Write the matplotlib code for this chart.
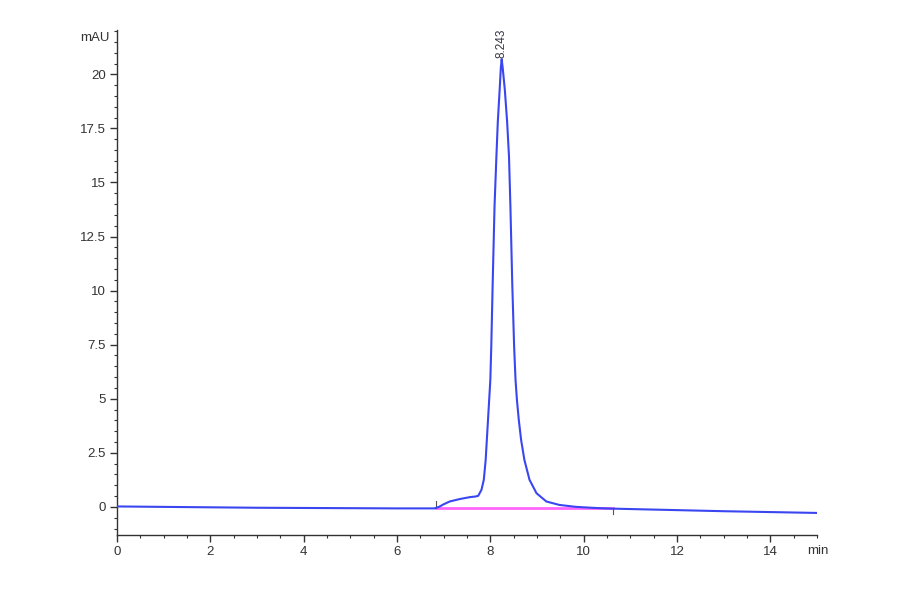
import matplotlib
matplotlib.use("Agg")
import matplotlib.pyplot as plt
from matplotlib.ticker import MultipleLocator, FuncFormatter

plt.rcParams['font.family'] = ['Liberation Sans', 'DejaVu Sans']

# signal trace (min, mAU)
time_min = [0, 1, 2, 3, 4, 5, 6, 6.8, 6.9, 7.0, 7.13, 7.34, 7.56, 7.68, 7.74,
            7.81, 7.86, 7.90, 7.95, 8.00, 8.02, 8.05, 8.09, 8.13, 8.16, 8.20,
            8.225, 8.243, 8.265, 8.31, 8.36, 8.40, 8.43, 8.47, 8.51, 8.54,
            8.57, 8.61, 8.66, 8.73, 8.84, 8.99, 9.20, 9.48, 9.84, 10.34, 10.6,
            11, 12, 13, 14, 15]
signal_mau = [0.02, 0.0, -0.02, -0.04, -0.05, -0.06, -0.07, -0.07, 0.0, 0.12,
              0.25, 0.36, 0.45, 0.48, 0.51, 0.79, 1.25, 2.17, 4.02, 5.87, 7.4,
              10.3, 13.9, 16.2, 17.8, 19.3, 20.3, 20.7, 20.3, 19.3, 17.8, 16.2,
              13.9, 10.3, 7.4, 5.87, 4.94, 4.02, 3.09, 2.17, 1.25, 0.63, 0.25,
              0.09, 0.0, -0.06, -0.08, -0.1, -0.15, -0.2, -0.24, -0.28]

# integration baseline
base_t = [6.84, 10.62]
base_v = [-0.07, -0.07]

peak_rt = 8.243
peak_h = 20.7

xticks = [0, 2, 4, 6, 8, 10, 12, 14]
yticks = [0, 2.5, 5, 7.5, 10, 12.5, 15, 17.5, 20]

fig = plt.figure(figsize=(9, 5.94), dpi=100)
ax = fig.add_axes([117/900, 59/594, 700/900, 505/594])

ax.plot(time_min, signal_mau, color="#3a46f0", lw=1.5, zorder=3,
        solid_joinstyle="round")
ax.plot(base_t, base_v, color="#ff66ff", lw=2.0, zorder=2)
# start/end markers
ax.plot([base_t[0], base_t[0]], [-0.05, 0.25], color="#555555", lw=0.8)
ax.plot([base_t[1], base_t[1]], [-0.08, -0.35], color="#555555", lw=0.8)

ax.text(peak_rt, peak_h + 0.05, f"{peak_rt:.3f}", rotation=90, ha="center",
        va="bottom", fontsize=8.5, color="#333344")

ax.set_xlim(0, 15)
ax.set_ylim(-1.3, 22.05)
ax.set_xticks(xticks)
ax.set_yticks(yticks)
ax.xaxis.set_minor_locator(MultipleLocator(0.5))
ax.yaxis.set_minor_locator(MultipleLocator(0.5))
ax.yaxis.set_major_formatter(FuncFormatter(lambda v, p: f"{v:g}"))

for s in ["top", "right"]:
    ax.spines[s].set_visible(False)
for s in ["left", "bottom"]:
    ax.spines[s].set_color("#333333")
    ax.spines[s].set_linewidth(1.0)

ax.tick_params(which="major", length=5, width=1, color="#333333",
               labelsize=9.5, labelcolor="#333333", pad=3)
ax.tick_params(which="minor", length=2.5, width=0.8, color="#333333")

fig.text(95/900, 1 - 38/594, "mAU", fontsize=9.5, color="#333333",
         ha="center", va="center")
fig.text(818/900, 1 - 551/594, "min", fontsize=9.5, color="#333333",
         ha="center", va="center")

fig.savefig("out.png", dpi=100, facecolor="white")
